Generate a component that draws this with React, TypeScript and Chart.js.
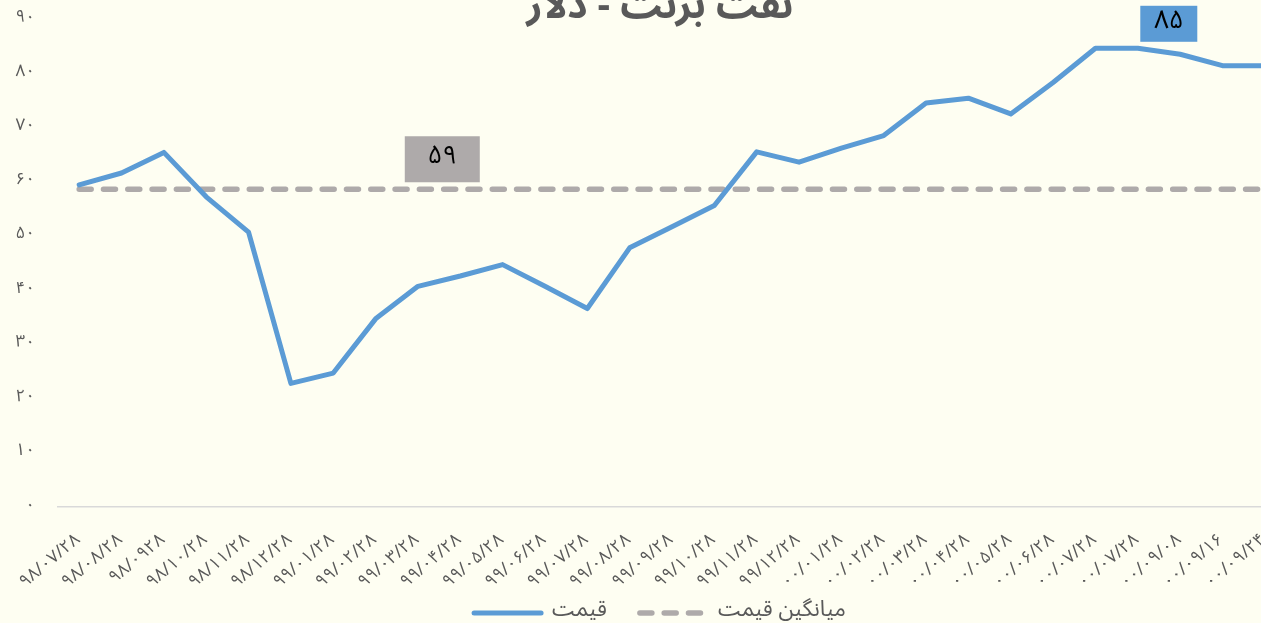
import React, { useEffect, useRef } from "react";
import { Chart, registerables } from "chart.js";

Chart.register(...registerables);

const titleText = "نفت برنت - دلار";
const seriesNames = ["قیمت", "میانگین قیمت"];

const categories = [
  "۹۸/۰۷/۲۸", "۹۸/۰۸/۲۸", "۹۸/۰۹۲۸", "۹۸/۱۰/۲۸", "۹۸/۱۱/۲۸", "۹۸/۱۲/۲۸",
  "۹۹/۰۱/۲۸", "۹۹/۰۲/۲۸", "۹۹/۰۳/۲۸", "۹۹/۰۴/۲۸", "۹۹/۰۵/۲۸", "۹۹/۰۶/۲۸",
  "۹۹/۰۷/۲۸", "۹۹/۰۸/۲۸", "۹۹/۰۹/۲۸", "۹۹/۱۰/۲۸", "۹۹/۱۱/۲۸", "۹۹/۱۲/۲۸",
  "۰۰/۰۱/۲۸", "۰۰/۰۲/۲۸", "۰۰/۰۳/۲۸", "۰۰/۰۴/۲۸", "۰۰/۰۵/۲۸", "۰۰/۰۶/۲۸",
  "۰۰/۰۷/۲۸", "۰۰/۰۷/۲۸", "۰۰/۰۹/۰۸", "۰۰/۰۹/۱۶", "۰۰/۰۹/۲۴",
];

const priceValues = [
  59.4, 61.6, 65.4, 57.2, 50.7, 22.8, 24.7, 34.7, 40.7, 42.6, 44.7, 40.7,
  36.6, 47.8, 51.7, 55.6, 65.5, 63.6, 66.2, 68.5, 74.5, 75.4, 72.5, 78.3,
  84.6, 84.6, 83.5, 81.4, 81.4,
];

const averageValues = [
  58.6, 58.6, 58.6, 58.6, 58.6, 58.6, 58.6, 58.6, 58.6, 58.6, 58.6, 58.6,
  58.6, 58.6, 58.6, 58.6, 58.6, 58.6, 58.6, 58.6, 58.6, 58.6, 58.6, 58.6,
  58.6, 58.6, 58.6, 58.6, 58.6,
];

const yTickLabels = ["۰", "۱۰", "۲۰", "۳۰", "۴۰", "۵۰", "۶۰", "۷۰", "۸۰", "۹۰"];

const FONT = '"Noto Sans Arabic", "Noto Sans Arabic UI", "Noto Naskh Arabic", "Noto Sans", "DejaVu Sans", sans-serif';
const TEXT_COLOR = "#595959";
const BLUE = "#5B9BD5";
const GRAY = "#AEAAAA";

const toFa = (n: number) =>
  String(n).replace(/[0-9]/g, (d) => "۰۱۲۳۴۵۶۷۸۹"[Number(d)]);

const boxLabelPlugin = {
  id: "boxLabels",
  afterDatasetsDraw(chart: any, _args: any, opts: any) {
    const ctx = chart.ctx;
    (opts.items || []).forEach((l: any) => {
      const meta = chart.getDatasetMeta(l.dataset);
      const pt = meta.data[l.index];
      if (!pt) return;
      const value = chart.data.datasets[l.dataset].data[l.index];
      const cx = pt.x + l.dx;
      const cy = pt.y + l.dy;
      ctx.save();
      ctx.fillStyle = l.bg;
      ctx.fillRect(cx - l.w / 2, cy - l.h / 2, l.w, l.h);
      ctx.fillStyle = "#000000";
      ctx.font = `26px ${FONT}`;
      ctx.textAlign = "center";
      ctx.textBaseline = "middle";
      ctx.fillText(toFa(Math.round(value)), cx, cy);
      ctx.restore();
    });
  },
};

// lets the legend sit a little higher, overlapping the tall x-axis box
const legendShiftPlugin = {
  id: "legendShift",
  afterLayout(chart: any, _args: any, opts: any) {
    const lg = chart.legend;
    if (!lg) return;
    const s = opts.shift || 0;
    lg.top -= s;
    lg.bottom -= s;
  },
};

export default function App() {
  const ref = useRef<HTMLCanvasElement | null>(null);

  useEffect(() => {
    if (!ref.current) return;
    const chart = new Chart(ref.current, {
      type: "line",
      data: {
        labels: categories,
        datasets: [
          {
            label: seriesNames[0],
            data: priceValues,
            borderColor: BLUE,
            backgroundColor: BLUE,
            borderWidth: 5,
            borderCapStyle: "round",
            borderJoinStyle: "round",
            pointRadius: 0,
            pointHoverRadius: 0,
            tension: 0,
            fill: false,
          },
          {
            label: seriesNames[1],
            data: averageValues,
            borderColor: GRAY,
            backgroundColor: GRAY,
            borderWidth: 5.5,
            borderDash: [12, 12.3],
            borderCapStyle: "round",
            pointRadius: 0,
            pointHoverRadius: 0,
            tension: 0,
            fill: false,
          },
        ],
      },
      options: {
        animation: false,
        responsive: false,
        devicePixelRatio: 1,
        events: [],
        layout: { padding: 0 },
        scales: {
          x: {
            offset: true,
            grid: { display: false, drawTicks: false },
            border: { display: true, color: "#D9D9D9", width: 1.5 },
            ticks: {
              autoSkip: false,
              minRotation: 40,
              maxRotation: 40,
              padding: 24,
              color: TEXT_COLOR,
              font: { family: FONT, size: 17.5 },
            },
            afterFit(scale: any) {
              scale.height = 92;
              scale.paddingLeft = 0;
              scale.paddingRight = 0;
            },
          },
          y: {
            min: 0,
            max: 90,
            grid: { display: false, drawTicks: false },
            border: { display: false },
            ticks: {
              stepSize: 10,
              padding: 23,
              color: TEXT_COLOR,
              font: { family: FONT, size: 17 },
              callback: (_v: any, i: number) => yTickLabels[i],
            },
            afterFit(scale: any) {
              scale.width = 58;
            },
          },
          yRightSpace: {
            position: "right",
            min: 0,
            max: 90,
            grid: { display: false, drawTicks: false },
            border: { display: false },
            ticks: { display: false },
            afterFit(scale: any) {
              scale.width = 34;
            },
          },
        },
        plugins: {
          title: {
            display: true,
            text: titleText,
            color: TEXT_COLOR,
            font: { family: FONT, size: 39, weight: "bold", lineHeight: 0.35 },
            padding: { top: 45.2, bottom: 0.15 },
          },
          legend: {
            display: true,
            position: "bottom",
            labels: {
              usePointStyle: true,
              pointStyle: "line",
              pointStyleWidth: 67,
              padding: 33,
              color: TEXT_COLOR,
              font: { family: FONT, size: 22 },
              generateLabels(chart: any) {
                const items = Chart.defaults.plugins.legend.labels.generateLabels(chart);
                return items.map((it: any) => {
                  const ds = chart.data.datasets[it.datasetIndex];
                  return {
                    ...it,
                    lineDash: ds.borderDash || [],
                    lineCap: ds.borderCapStyle || "butt",
                    lineWidth: ds.borderWidth,
                    strokeStyle: ds.borderColor,
                    pointStyle: "line",
                  };
                });
              },
            },
          },
          legendShift: { shift: 30 },
          tooltip: { enabled: false },
          boxLabels: {
            items: [
              { dataset: 1, index: 9, dx: -18, dy: -30, w: 75, h: 46, bg: GRAY },
              { dataset: 0, index: 25, dx: 31, dy: -24.5, w: 57, h: 36, bg: BLUE },
            ],
          },
        } as any,
      },
      plugins: [boxLabelPlugin, legendShiftPlugin],
    });
    return () => chart.destroy();
  }, []);

  return (
    <div
      style={{
        position: "fixed",
        left: 0,
        top: 0,
        width: 1261,
        height: 623,
        overflow: "hidden",
        background: "#FEFEF2",
      }}
    >
      <canvas
        ref={ref}
        width={1320}
        height={704}
        style={{ position: "absolute", left: 0, top: -40, width: 1320, height: 704 }}
      />
    </div>
  );
}
